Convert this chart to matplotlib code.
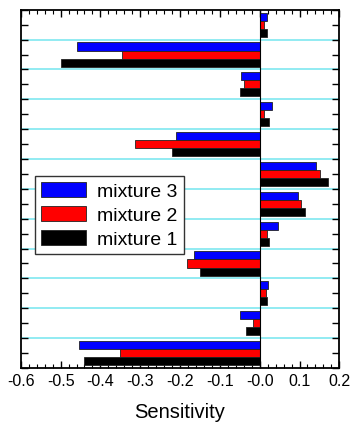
"""
    horizontal grouped bar chart of sensitivities for three mixtures
"""
import numpy as np
import matplotlib as mpl
import matplotlib.pyplot as plt
from matplotlib.ticker import MultipleLocator

mpl.rcParams['font.family'] = ['Liberation Sans', 'DejaVu Sans']

# parameters listed from top to bottom
params = list(range(1, 13))
mixture_3 = [0.019, -0.458, -0.048, 0.032, -0.209, 0.142, 0.097, 0.045, -0.166, 0.020, -0.050, -0.454]
mixture_2 = [0.011, -0.345, -0.039, 0.010, -0.312, 0.151, 0.103, 0.019, -0.183, 0.015, -0.017, -0.351]
mixture_1 = [0.019, -0.499, -0.049, 0.023, -0.220, 0.172, 0.115, 0.023, -0.151, 0.019, -0.034, -0.440]

fig = plt.figure(figsize=(3.52, 4.31), dpi=100)
ax = fig.add_axes([0.059, 0.144, 0.905, 0.831])

n = len(params)
y = np.arange(n)[::-1]
h = 0.27

ax.barh(y + h, mixture_3, height=h, color='blue', edgecolor='#222222', linewidth=0.6,
        label='mixture 3', zorder=3)
ax.barh(y, mixture_2, height=h, color='red', edgecolor='#222222', linewidth=0.6,
        label='mixture 2', zorder=3)
ax.barh(y - h, mixture_1, height=h, color='black', edgecolor='#222222', linewidth=0.6,
        label='mixture 1', zorder=3)

# cyan separators between groups
for b in np.arange(n - 1) + 0.5:
    ax.axhline(b, color='#7fe8f0', linewidth=1.2, zorder=1)
ax.axvline(0, color='black', linewidth=0.8, zorder=4)

ax.set_xlim(-0.6, 0.2)
ax.set_ylim(-0.5, n - 0.5)
ax.xaxis.set_minor_locator(MultipleLocator(0.02))
ax.yaxis.set_major_locator(MultipleLocator(0.5))
ax.set_xticks(np.round(np.arange(-0.6, 0.21, 0.1), 1))
ax.set_xticklabels([f'{v:.1f}' for v in np.arange(-0.6, 0.21, 0.1)])
ax.set_yticklabels([])
ax.tick_params(axis='both', which='both', direction='in', top=True, right=True)
ax.tick_params(axis='both', which='major', length=5, width=1)
ax.tick_params(axis='x', which='minor', length=3, width=0.8)
ax.tick_params(axis='x', labelsize=11.5, pad=4)
for s in ax.spines.values():
    s.set_linewidth(1.3)

ax.set_xlabel('Sensitivity', fontsize=14.5, labelpad=10)

leg = ax.legend(loc='upper left', bbox_to_anchor=(0.045, 0.535), fontsize=14,
                frameon=True, fancybox=False, edgecolor='#333333', framealpha=1,
                handlelength=2.3, handleheight=0.8, handletextpad=0.6,
                labelspacing=0.3, borderpad=0.3, borderaxespad=0)
leg.get_frame().set_linewidth(1.0)
leg.set_zorder(5)

fig.savefig('out.png', dpi=100)
